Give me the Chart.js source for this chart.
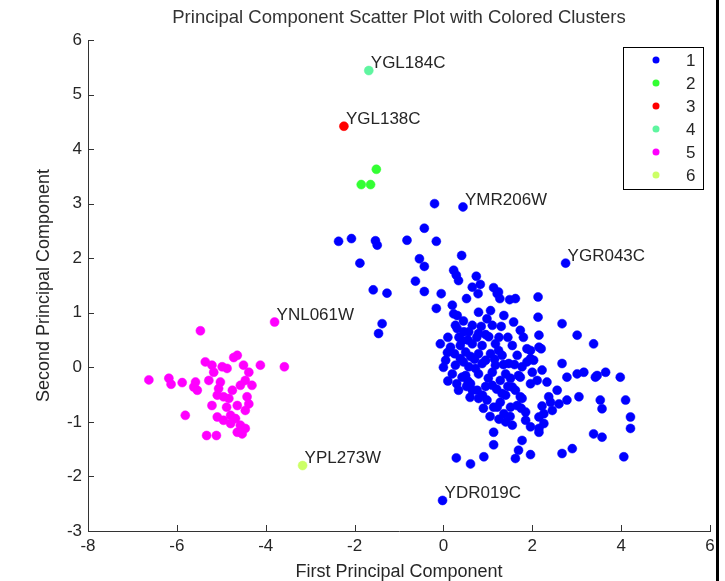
<!DOCTYPE html>
<html>
<head>
<meta charset="utf-8">
<script src="https://cdn.jsdelivr.net/npm/chart.js@4"></script>
<style>
  html, body { margin: 0; padding: 0; background: #fff; }
  #wrap { position: relative; width: 725px; height: 581px; }
  #edge { position: absolute; left: 716px; top: 0; width: 3px; height: 581px; background: #000; }
</style>
</head>
<body>
<div id="wrap">
  <canvas id="pcaChart" width="725" height="581"></canvas>
  <div id="edge"></div>
</div>
<script>
/* data */
const chartTitle = 'Principal Component Scatter Plot with Colored Clusters';
const clusterNames = ['1', '2', '3', '4', '5', '6'];
const clusterColors = ['#0000ff', '#33ff33', '#ff0000', '#5ff5a0', '#ff00ff', '#ccff66'];

const cluster1X = [-0.20, 0.44, -0.43, -2.36, -2.07, -1.53, -1.49, -0.82, -0.16, -1.88, -0.54, -0.43, -0.63, -1.58, -1.27, -0.43, -0.05, -0.16, -1.38, -1.46,
  0.41, 0.23, 0.29, 0.34, 0.74, 0.65, 0.83, 1.13, 1.24, 1.27, 1.49, 1.62, 2.13, 2.75, 0.52, 0.20, 0.79, 1.06, 0.31, 1.36,
  2.13, 0.78, 1.21, 0.98, 1.58, 0.31, 0.57, 0.79, 1.02, -0.07, 0.16, 0.42, 0.65, 0.87, 1.17, 1.55, 1.88, 0.50, 0.79, 1.06,
  1.32, 1.66, 1.96, 0.27, 0.57, 0.87, 1.17, 1.47, 1.77, 0.20, 0.50, 0.79, 1.10, 1.40, 1.69, 2.00, 0.42, 0.65, 0.79, 1.10,
  1.32, 1.55, 1.77, 1.13, 1.36, 1.28, 1.66, 1.85, 1.40, 1.13, 1.13, 1.77, 1.69, 1.96, 0.29, 0.91, 0.61, 1.62, 2.67, 2.90,
  3.38, 3.57, 4.06, 4.21, 4.21, 4.10, 3.98, 3.65, 3.42, 3.16, 3.01, 2.78, 2.67, 2.78, 3.05, 3.53, 3.57, 2.60, 2.45, 2.26,
  2.15, 2.15, 1.96, 2.56, 2.37, 2.22, 3.38, 3.01, 2.67, 2.15, 2.15, 1.88, 1.73, 1.96, 1.73, 1.51, 1.21, 0.98, 0.76, 0.61,
  0.23, 0.27, 0.46, 2.20, 1.96, 3.46, 2.41, 2.22, 2.26, 2.15, 2.33, 2.11, 2.03, -0.02,
  0.61, 0.95, 1.24, 0.38, 0.72, 1.01, 1.28, 1.51, 1.62, 0.88, 1.40, 0.38, 0.65, 1.10, 1.73, 0.05, 0.52, 1.85, 1.55, 0.09, 0.34,
  0.10, 0.35, 0.55, 0.75, 0.95, 1.25, 1.45, 0.25, 0.45, 0.70, 1.15, 1.35, 1.60, 0.30, 0.55, 0.95, 1.20, 1.45, 0.90, 1.05,
  1.25, 1.50, 0.60, 0.45, 0.85, 1.30, 1.80, 1.75, 0.00, 0.10];
const cluster1Y = [3.00, 2.94, 2.55, 2.31, 2.36, 2.32, 2.24, 2.33, 2.31, 1.91, 1.99, 1.85, 1.58, 1.42, 1.36, 1.39, 1.35, 1.08, 0.80, 0.62,
  2.05, 1.78, 1.69, 1.59, 1.67, 1.47, 1.52, 1.46, 1.38, 1.26, 1.24, 1.26, 1.29, 1.91, 1.26, 1.14, 1.01, 1.04, 0.95, 0.95,
  0.92, 1.35, 1.35, 0.89, 0.83, 0.71, 0.65, 0.62, 0.56, 0.43, 0.37, 0.49, 0.43, 0.40, 0.43, 0.40, 0.34, 0.28, 0.25, 0.25,
  0.22, 0.22, 0.16, 0.04, 0.01, 0.07, 0.04, 0.07, 0.01, -0.12, -0.15, -0.12, -0.09, -0.12, -0.15, -0.09, -0.18, -0.42, -0.57, -0.33,
  -0.48, -0.36, -0.57, -0.73, -0.85, -0.64, -0.70, -0.82, -1.00, -1.19, -1.42, -1.34, -1.52, -1.60, -1.66, -1.64, -1.77, -1.67, -1.58, -1.49,
  -1.22, -1.28, -1.64, -1.12, -0.91, -0.60, -0.18, -0.09, -0.18, -0.09, -0.12, -0.18, 0.07, -0.60, -0.54, -0.60, -0.76, -0.67, -0.79, -0.85,
  -1.12, -0.91, -1.09, -0.42, -0.54, -0.05, 0.43, 0.59, 0.80, 0.37, 0.59, 0.10, -0.18, -0.30, -0.54, -0.73, -0.73, -0.60, -0.42, -0.30,
  0.98, 0.77, 0.65, 0.34, 0.31, -0.15, -0.64, -0.71, -1.03, -1.19, -0.27, -0.24, 0.13, -2.44,
  0.20, 0.13, 0.31, 0.16, -0.02, -0.20, -0.24, -0.20, -0.42, -0.51, -0.51, 0.40, 0.77, 0.77, 0.68, 0.13, -0.35, -0.97, -1.06, 0.27, -0.42,
  0.55, 0.55, 0.50, 0.55, 0.60, 0.55, 0.55, 0.25, 0.10, 0.15, 0.15, 0.05, 0.05, -0.30, -0.25, -0.35, -0.40, -0.35, -0.75, -0.90,
  -0.95, -0.90, -0.55, 0.85, 0.75, 0.75, 0.55, -0.75, 0.00, -0.25];

const cluster2X = [-1.51, -1.85, -1.64];
const cluster2Y = [3.63, 3.35, 3.35];
const cluster3X = [-2.24];
const cluster3Y = [4.42];
const cluster4X = [-1.68];
const cluster4Y = [5.44];

const cluster5X = [-3.80, -5.47, -6.63, -6.18, -6.13, -5.88, -5.62, -5.54, -5.58, -5.36, -5.21, -5.28, -5.17, -4.98, -4.87, -4.72, -4.64, -4.50, -4.38, -4.12,
  -3.58, -4.46, -4.57, -4.31, -5.02, -5.06, -5.09, -4.95, -4.83, -5.21, -5.81, -4.64, -4.42, -4.38, -4.46, -5.09, -4.95, -4.79, -4.68, -4.57,
  -4.46, -4.64, -4.53, -5.33, -5.11, -4.79, -4.75, -4.88];
const cluster5Y = [0.83, 0.67, -0.23, -0.20, -0.31, -0.28, -0.36, -0.42, -0.27, 0.10, 0.04, -0.24, -0.09, 0.01, -0.02, 0.18, 0.22, 0.04, -0.09, 0.04,
  0.01, -0.24, -0.33, -0.33, -0.27, -0.39, -0.51, -0.54, -0.57, -0.70, -0.88, -0.70, -0.54, -0.67, -0.79, -0.91, -0.97, -1.03, -0.94, -1.06,
  -1.12, -1.19, -1.22, -1.25, -1.25, -0.88, -0.42, -0.73];

const cluster6X = [-3.17];
const cluster6Y = [-1.80];

const geneLabels = ['YGL184C', 'YGL138C', 'YMR206W', 'YGR043C', 'YNL061W', 'YPL273W', 'YDR019C'];
const geneX = [-1.68, -2.24, 0.44, 2.75, -3.80, -3.17, -0.02];
const geneY = [5.44, 4.42, 2.94, 1.91, 0.83, -1.80, -2.44];

const xTicks = [-8, -6, -4, -2, 0, 2, 4, 6];
const yTicks = [-3, -2, -1, 0, 1, 2, 3, 4, 5, 6];

const allX = [cluster1X, cluster2X, cluster3X, cluster4X, cluster5X, cluster6X];
const allY = [cluster1Y, cluster2Y, cluster3Y, cluster4Y, cluster5Y, cluster6Y];

const FONT = "'Liberation Sans', Arial, sans-serif";
const TEXT = '#262626';

const datasets = clusterNames.map((name, i) => ({
  label: name,
  data: allX[i].map((x, j) => ({ x, y: allY[i][j] })),
  backgroundColor: clusterColors[i],
  borderColor: clusterColors[i],
  borderWidth: 0.5,
  pointRadius: 4.5,
  pointHoverRadius: 4.5,
}));

/* title, inward ticks, gene names and legend box */
const extras = {
  id: 'extras',
  afterDraw(chart) {
    const { ctx, chartArea } = chart;
    const xs = chart.scales.x, ys = chart.scales.y;
    ctx.save();

    ctx.font = '18.5px ' + FONT;
    ctx.fillStyle = '#333';
    ctx.textAlign = 'center';
    ctx.textBaseline = 'middle';
    ctx.fillText(chartTitle, (chartArea.left + chartArea.right) / 2, 18);

    ctx.strokeStyle = '#333';
    ctx.lineWidth = 1;
    ctx.beginPath();
    xTicks.forEach(v => {
      const px = Math.round(xs.getPixelForValue(v)) + 0.5;
      ctx.moveTo(px, chartArea.bottom);
      ctx.lineTo(px, chartArea.bottom - 6);
    });
    yTicks.forEach(v => {
      const py = Math.round(ys.getPixelForValue(v)) + 0.5;
      ctx.moveTo(chartArea.left, py);
      ctx.lineTo(chartArea.left + 6, py);
    });
    ctx.stroke();

    ctx.font = '17px ' + FONT;
    ctx.fillStyle = TEXT;
    ctx.textAlign = 'left';
    geneLabels.forEach((g, i) => {
      ctx.fillText(g, xs.getPixelForValue(geneX[i]) + 2, ys.getPixelForValue(geneY[i]) - 7);
    });

    // legend
    const left = chartArea.right - 87, top = chartArea.top + 7;
    ctx.fillStyle = '#fff';
    ctx.fillRect(left, top, 80, 142);
    ctx.strokeStyle = '#000';
    ctx.strokeRect(left + 0.5, top + 0.5, 80, 142);
    clusterNames.forEach((name, i) => {
      const y = top + 13 + i * 23;
      ctx.fillStyle = clusterColors[i];
      ctx.beginPath();
      ctx.arc(left + 33, y, 3.5, 0, Math.PI * 2);
      ctx.fill();
      ctx.fillStyle = TEXT;
      ctx.fillText(name, left + 63, y + 1);
    });
    ctx.restore();
  }
};

const config = {
  type: 'scatter',
  data: { datasets },
  options: {
    animation: false,
    responsive: false,
    events: [],
    layout: { padding: { left: 0, right: 15, top: 40, bottom: 0 } },
    plugins: {
      legend: { display: false },
      tooltip: { enabled: false },
      title: { display: false },
    },
    scales: {
      x: {
        type: 'linear',
        min: -8, max: 6,
        afterBuildTicks: s => { s.ticks = xTicks.map(v => ({ value: v })); },
        afterFit: s => { s.height = 50; },
        grid: { display: true, drawOnChartArea: false, drawTicks: false },
        border: { display: true, color: '#333', width: 1 },
        ticks: { color: TEXT, padding: 5, font: { family: FONT, size: 17 } },
        title: {
          display: true,
          text: 'First Principal Component',
          color: TEXT,
          font: { family: FONT, size: 18, lineHeight: 1 },
          padding: { top: 0, bottom: 0 },
        },
      },
      y: {
        type: 'linear',
        min: -3, max: 6,
        afterBuildTicks: s => { s.ticks = yTicks.map(v => ({ value: v })); },
        afterFit: s => { s.width = 88; },
        grid: { display: true, drawOnChartArea: false, drawTicks: false },
        border: { display: true, color: '#333', width: 1 },
        ticks: { color: TEXT, padding: 6, font: { family: FONT, size: 17 } },
        title: {
          display: true,
          text: 'Second Principal Component',
          color: TEXT,
          font: { family: FONT, size: 18, lineHeight: 1.2 },
          padding: { top: 33, bottom: 0 },
        },
      },
    },
  },
  plugins: [extras],
};

new Chart(document.getElementById('pcaChart').getContext('2d'), config);
</script>
</body>
</html>
